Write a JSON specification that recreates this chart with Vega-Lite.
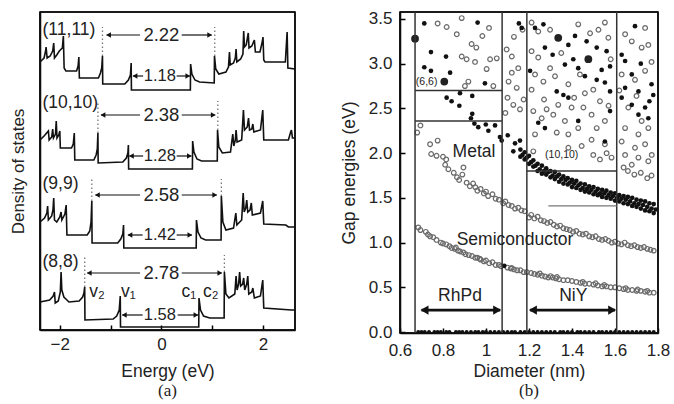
{
"$schema": "https://vega.github.io/schema/vega-lite/v6.json",
"padding": {"left": 8, "top": 9, "right": 2, "bottom": 2},
"spacing": 40,
"config": {
  "font": "Liberation Sans",
  "view": {"stroke": "black", "strokeWidth": 1.5},
  "axis": {"grid": false, "domain": true, "domainColor": "black", "domainWidth": 1.5, "labelFlush": false, "labelColor": "#222", "titleColor": "#222", "titleFontWeight": "normal", "tickColor": "black", "tickWidth": 1.5, "labelFontSize": 17, "titleFontSize": 17.5}
},
"datasets": {
"dos": [
{"c":"11","e":-2.39,"y":268},{"c":"11","e":-2.31,"y":272},{"c":"11","e":-2.28,"y":279},{"c":"11","e":-2.27,"y":283},{"c":"11","e":-2.25,"y":272},{"c":"11","e":-2.19,"y":274},{"c":"11","e":-2.14,"y":279},{"c":"11","e":-2.12,"y":287},{"c":"11","e":-2.105,"y":272},{"c":"11","e":-2.06,"y":275},{"c":"11","e":-2.01,"y":279},{"c":"11","e":-1.95,"y":282},{"c":"11","e":-1.93,"y":294},{"c":"11","e":-1.915,"y":262},{"c":"11","e":-1.88,"y":259},{"c":"11","e":-1.67,"y":259},{"c":"11","e":-1.64,"y":264},{"c":"11","e":-1.625,"y":273},{"c":"11","e":-1.615,"y":252},{"c":"11","e":-1.24,"y":252},{"c":"11","e":-1.2,"y":257},{"c":"11","e":-1.175,"y":262},{"c":"11","e":-1.16,"y":274},{"c":"11","e":-1.155,"y":246},{"c":"11","e":-0.72,"y":246},{"c":"11","e":-0.65,"y":250},{"c":"11","e":-0.61,"y":255},{"c":"11","e":-0.595,"y":267},{"c":"11","e":-0.59,"y":240},{"c":"11","e":0.57,"y":240},{"c":"11","e":0.575,"y":266},{"c":"11","e":0.6,"y":256},{"c":"11","e":0.66,"y":250},{"c":"11","e":0.75,"y":248},{"c":"11","e":1.04,"y":247},{"c":"11","e":1.045,"y":274},{"c":"11","e":1.07,"y":261},{"c":"11","e":1.13,"y":256},{"c":"11","e":1.27,"y":258},{"c":"11","e":1.32,"y":263},{"c":"11","e":1.34,"y":278},{"c":"11","e":1.355,"y":265},{"c":"11","e":1.42,"y":267},{"c":"11","e":1.455,"y":272},{"c":"11","e":1.47,"y":281},{"c":"11","e":1.485,"y":268},{"c":"11","e":1.56,"y":271},{"c":"11","e":1.605,"y":276},{"c":"11","e":1.62,"y":299},{"c":"11","e":1.635,"y":283},{"c":"11","e":1.67,"y":285},{"c":"11","e":1.71,"y":297},{"c":"11","e":1.725,"y":282},{"c":"11","e":1.78,"y":284},{"c":"11","e":1.83,"y":290},{"c":"11","e":1.85,"y":278},{"c":"11","e":1.94,"y":278},{"c":"11","e":1.985,"y":288},{"c":"11","e":2.0,"y":293},{"c":"11","e":2.015,"y":270},{"c":"11","e":2.04,"y":268},{"c":"11","e":2.44,"y":268},{"c":"11","e":2.475,"y":298},{"c":"11","e":2.49,"y":262},{"c":"11","e":2.63,"y":261},
{"c":"10","e":-2.39,"y":190},{"c":"10","e":-2.31,"y":194},{"c":"10","e":-2.225,"y":199},{"c":"10","e":-2.21,"y":190},{"c":"10","e":-2.16,"y":193},{"c":"10","e":-2.14,"y":201},{"c":"10","e":-2.125,"y":192},{"c":"10","e":-2.085,"y":196},{"c":"10","e":-2.07,"y":209},{"c":"10","e":-2.055,"y":192},{"c":"10","e":-2.02,"y":195},{"c":"10","e":-2.0,"y":199},{"c":"10","e":-1.99,"y":182},{"c":"10","e":-1.77,"y":182},{"c":"10","e":-1.735,"y":186},{"c":"10","e":-1.715,"y":197},{"c":"10","e":-1.705,"y":170},{"c":"10","e":-1.33,"y":170},{"c":"10","e":-1.285,"y":175},{"c":"10","e":-1.262,"y":181},{"c":"10","e":-1.25,"y":197},{"c":"10","e":-1.245,"y":167},{"c":"10","e":-0.76,"y":168},{"c":"10","e":-0.69,"y":172},{"c":"10","e":-0.66,"y":177},{"c":"10","e":-0.65,"y":185},{"c":"10","e":-0.645,"y":161},{"c":"10","e":0.61,"y":161},{"c":"10","e":0.615,"y":189},{"c":"10","e":0.64,"y":178},{"c":"10","e":0.7,"y":171},{"c":"10","e":0.79,"y":169},{"c":"10","e":1.1,"y":169},{"c":"10","e":1.105,"y":200},{"c":"10","e":1.13,"y":183},{"c":"10","e":1.2,"y":177},{"c":"10","e":1.36,"y":178},{"c":"10","e":1.405,"y":196},{"c":"10","e":1.425,"y":184},{"c":"10","e":1.455,"y":190},{"c":"10","e":1.47,"y":200},{"c":"10","e":1.49,"y":188},{"c":"10","e":1.58,"y":190},{"c":"10","e":1.615,"y":220},{"c":"10","e":1.635,"y":200},{"c":"10","e":1.69,"y":203},{"c":"10","e":1.715,"y":212},{"c":"10","e":1.735,"y":200},{"c":"10","e":1.78,"y":201},{"c":"10","e":1.8,"y":206},{"c":"10","e":1.82,"y":198},{"c":"10","e":1.95,"y":200},{"c":"10","e":1.995,"y":220},{"c":"10","e":2.015,"y":190},{"c":"10","e":2.5,"y":190},{"c":"10","e":2.545,"y":198},{"c":"10","e":2.56,"y":200},{"c":"10","e":2.58,"y":192},{"c":"10","e":2.63,"y":192},
{"c":"9","e":-2.39,"y":108},{"c":"9","e":-2.3,"y":112},{"c":"9","e":-2.255,"y":117},{"c":"9","e":-2.24,"y":124},{"c":"9","e":-2.225,"y":110},{"c":"9","e":-2.16,"y":114},{"c":"9","e":-2.135,"y":120},{"c":"9","e":-2.12,"y":132},{"c":"9","e":-2.105,"y":110},{"c":"9","e":-2.06,"y":108},{"c":"9","e":-2.0,"y":113},{"c":"9","e":-1.975,"y":118},{"c":"9","e":-1.96,"y":110},{"c":"9","e":-1.9,"y":116},{"c":"9","e":-1.875,"y":125},{"c":"9","e":-1.86,"y":95},{"c":"9","e":-1.46,"y":95},{"c":"9","e":-1.41,"y":99},{"c":"9","e":-1.385,"y":108},{"c":"9","e":-1.37,"y":129},{"c":"9","e":-1.365,"y":87},{"c":"9","e":-0.86,"y":87},{"c":"9","e":-0.8,"y":91},{"c":"9","e":-0.76,"y":96},{"c":"9","e":-0.745,"y":105},{"c":"9","e":-0.74,"y":82},{"c":"9","e":0.685,"y":82},{"c":"9","e":0.69,"y":110},{"c":"9","e":0.72,"y":98},{"c":"9","e":0.78,"y":92},{"c":"9","e":0.87,"y":90},{"c":"9","e":1.175,"y":90},{"c":"9","e":1.18,"y":134},{"c":"9","e":1.21,"y":108},{"c":"9","e":1.27,"y":100},{"c":"9","e":1.42,"y":102},{"c":"9","e":1.465,"y":117},{"c":"9","e":1.485,"y":105},{"c":"9","e":1.58,"y":110},{"c":"9","e":1.61,"y":137},{"c":"9","e":1.63,"y":118},{"c":"9","e":1.66,"y":122},{"c":"9","e":1.68,"y":130},{"c":"9","e":1.7,"y":118},{"c":"9","e":1.745,"y":120},{"c":"9","e":1.77,"y":127},{"c":"9","e":1.79,"y":115},{"c":"9","e":1.95,"y":117},{"c":"9","e":1.995,"y":129},{"c":"9","e":2.015,"y":106},{"c":"9","e":2.45,"y":105},{"c":"9","e":2.5,"y":103},{"c":"9","e":2.63,"y":103},
{"c":"8","e":-2.39,"y":28},{"c":"8","e":-2.2,"y":30},{"c":"8","e":-2.13,"y":34},{"c":"8","e":-2.105,"y":38},{"c":"8","e":-2.09,"y":27},{"c":"8","e":-2.03,"y":29},{"c":"8","e":-1.99,"y":38},{"c":"8","e":-1.975,"y":58},{"c":"8","e":-1.96,"y":40},{"c":"8","e":-1.92,"y":33},{"c":"8","e":-1.82,"y":28},{"c":"8","e":-1.62,"y":29},{"c":"8","e":-1.55,"y":33},{"c":"8","e":-1.525,"y":37},{"c":"8","e":-1.51,"y":43},{"c":"8","e":-1.505,"y":10},{"c":"8","e":-0.95,"y":11},{"c":"8","e":-0.88,"y":14},{"c":"8","e":-0.83,"y":20},{"c":"8","e":-0.81,"y":34},{"c":"8","e":-0.805,"y":3},{"c":"8","e":0.735,"y":3},{"c":"8","e":0.74,"y":32},{"c":"8","e":0.77,"y":20},{"c":"8","e":0.83,"y":14},{"c":"8","e":0.95,"y":12},{"c":"8","e":1.235,"y":12},{"c":"8","e":1.24,"y":58},{"c":"8","e":1.27,"y":36},{"c":"8","e":1.33,"y":32},{"c":"8","e":1.445,"y":36},{"c":"8","e":1.47,"y":54},{"c":"8","e":1.49,"y":40},{"c":"8","e":1.52,"y":46},{"c":"8","e":1.54,"y":58},{"c":"8","e":1.56,"y":44},{"c":"8","e":1.6,"y":46},{"c":"8","e":1.62,"y":52},{"c":"8","e":1.64,"y":40},{"c":"8","e":1.68,"y":46},{"c":"8","e":1.7,"y":54},{"c":"8","e":1.72,"y":36},{"c":"8","e":1.78,"y":38},{"c":"8","e":1.8,"y":42},{"c":"8","e":1.83,"y":32},{"c":"8","e":1.95,"y":34},{"c":"8","e":1.995,"y":50},{"c":"8","e":2.015,"y":22},{"c":"8","e":2.56,"y":20},{"c":"8","e":2.63,"y":20}
],
"lfx": [{"e":-2.39},{"e":2.63}],
"lfy": [{"y":0},{"y":318}],
"lvd": [{"e":-1.16,"y1":274,"y2":303},{"e":1.05,"y1":274,"y2":303},{"e":-1.25,"y1":197,"y2":229},{"e":1.11,"y1":200,"y2":229},{"e":-1.37,"y1":129,"y2":151},{"e":1.18,"y1":134,"y2":151},{"e":-1.51,"y1":43,"y2":75},{"e":1.24,"y1":58,"y2":75}],
"lar": [{"a":-1.08,"b":-0.42,"y":295},{"a":0.4,"b":0.99,"y":295},{"a":-0.56,"b":-0.36,"y":254},{"a":0.3,"b":0.56,"y":254},{"a":-1.19,"b":-0.42,"y":215},{"a":0.4,"b":1.06,"y":215},{"a":-0.63,"b":-0.36,"y":174},{"a":0.3,"b":0.59,"y":174},{"a":-1.3,"b":-0.42,"y":135},{"a":0.4,"b":1.09,"y":135},{"a":-0.66,"b":-0.37,"y":95},{"a":0.3,"b":0.6,"y":95},{"a":-1.46,"b":-0.42,"y":57},{"a":0.4,"b":1.19,"y":57},{"a":-0.77,"b":-0.37,"y":15},{"a":0.32,"b":0.72,"y":15}],
"lah": [{"x":-1.04,"y":295,"s":"triangle-left"},{"x":0.95,"y":295,"s":"triangle-right"},{"x":-0.52,"y":254,"s":"triangle-left"},{"x":0.52,"y":254,"s":"triangle-right"},{"x":-1.15,"y":215,"s":"triangle-left"},{"x":1.02,"y":215,"s":"triangle-right"},{"x":-0.59,"y":174,"s":"triangle-left"},{"x":0.55,"y":174,"s":"triangle-right"},{"x":-1.26,"y":135,"s":"triangle-left"},{"x":1.05,"y":135,"s":"triangle-right"},{"x":-0.62,"y":95,"s":"triangle-left"},{"x":0.56,"y":95,"s":"triangle-right"},{"x":-1.42,"y":57,"s":"triangle-left"},{"x":1.15,"y":57,"s":"triangle-right"},{"x":-0.73,"y":15,"s":"triangle-left"},{"x":0.68,"y":15,"s":"triangle-right"}],
"lnm": [{"x":-2.34,"y":300,"t":"(11,11)"},{"x":-2.34,"y":227,"t":"(10,10)"},{"x":-2.34,"y":146,"t":"(9,9)"},{"x":-2.34,"y":68,"t":"(8,8)"}],
"lgb": [{"x":0.0,"y":295,"t":"2.22"},{"x":0.0,"y":215,"t":"2.38"},{"x":0.0,"y":135,"t":"2.58"},{"x":0.0,"y":57,"t":"2.78"}],
"lgs": [{"x":-0.03,"y":254,"t":"1.18"},{"x":-0.03,"y":174,"t":"1.28"},{"x":-0.03,"y":95,"t":"1.42"},{"x":-0.03,"y":15,"t":"1.58"}],
"lvc": [{"x":-1.27,"y":38,"t":"v₂"},{"x":-0.65,"y":38,"t":"v₁"},{"x":0.54,"y":38,"t":"c₁"},{"x":0.97,"y":38,"t":"c₂"}],
"kp": [
{"d":0.685,"e":1.17,"t":"s"},{"d":0.695,"e":1.14,"t":"s"},{"d":0.72,"e":1.12,"t":"s"},{"d":0.73,"e":1.09,"t":"s"},{"d":0.74,"e":1.07,"t":"s"},{"d":0.755,"e":1.06,"t":"s"},{"d":0.77,"e":1.03,"t":"s"},{"d":0.79,"e":1.0,"t":"s"},{"d":0.8,"e":0.99,"t":"s"},{"d":0.815,"e":0.98,"t":"s"},{"d":0.83,"e":0.96,"t":"s"},{"d":0.84,"e":0.94,"t":"s"},{"d":0.855,"e":0.93,"t":"s"},{"d":0.86,"e":0.945,"t":"s"},{"d":0.87,"e":0.91,"t":"s"},{"d":0.88,"e":0.9,"t":"s"},{"d":0.895,"e":0.89,"t":"s"},{"d":0.905,"e":0.87,"t":"s"},{"d":0.92,"e":0.86,"t":"s"},{"d":0.935,"e":0.85,"t":"s"},{"d":0.95,"e":0.83,"t":"s"},{"d":0.96,"e":0.83,"t":"s"},{"d":0.97,"e":0.82,"t":"s"},{"d":0.975,"e":0.81,"t":"s"},{"d":0.99,"e":0.79,"t":"s"},{"d":1.0,"e":0.8,"t":"s"},{"d":1.015,"e":0.77,"t":"s"},{"d":1.03,"e":0.78,"t":"s"},{"d":1.045,"e":0.75,"t":"s"},{"d":1.06,"e":0.75,"t":"s"},{"d":1.07,"e":0.735,"t":"s"},{"d":1.1,"e":0.72,"t":"s"},{"d":1.115,"e":0.71,"t":"s"},{"d":1.12,"e":0.715,"t":"s"},{"d":1.13,"e":0.7,"t":"s"},{"d":1.145,"e":0.69,"t":"s"},{"d":1.16,"e":0.69,"t":"s"},{"d":1.175,"e":0.67,"t":"s"},{"d":1.19,"e":0.67,"t":"s"},{"d":1.21,"e":0.66,"t":"s"},{"d":1.225,"e":0.65,"t":"s"},{"d":1.24,"e":0.64,"t":"s"},{"d":1.25,"e":0.655,"t":"s"},{"d":1.26,"e":0.63,"t":"s"},{"d":1.275,"e":0.62,"t":"s"},{"d":1.29,"e":0.61,"t":"s"},{"d":1.3,"e":0.625,"t":"s"},{"d":1.31,"e":0.61,"t":"s"},{"d":1.325,"e":0.6,"t":"s"},{"d":1.33,"e":0.615,"t":"s"},{"d":1.34,"e":0.59,"t":"s"},{"d":1.36,"e":0.58,"t":"s"},{"d":1.38,"e":0.58,"t":"s"},{"d":1.4,"e":0.57,"t":"s"},{"d":1.42,"e":0.56,"t":"s"},{"d":1.44,"e":0.55,"t":"s"},{"d":1.45,"e":0.56,"t":"s"},{"d":1.46,"e":0.54,"t":"s"},{"d":1.48,"e":0.54,"t":"s"},{"d":1.5,"e":0.53,"t":"s"},{"d":1.51,"e":0.545,"t":"s"},{"d":1.52,"e":0.52,"t":"s"},{"d":1.54,"e":0.51,"t":"s"},{"d":1.55,"e":0.525,"t":"s"},{"d":1.56,"e":0.51,"t":"s"},{"d":1.58,"e":0.5,"t":"s"},{"d":1.6,"e":0.5,"t":"s"},{"d":1.62,"e":0.49,"t":"s"},{"d":1.64,"e":0.48,"t":"s"},{"d":1.65,"e":0.49,"t":"s"},{"d":1.66,"e":0.47,"t":"s"},{"d":1.68,"e":0.47,"t":"s"},{"d":1.7,"e":0.46,"t":"s"},{"d":1.705,"e":0.475,"t":"s"},{"d":1.72,"e":0.46,"t":"s"},{"d":1.74,"e":0.45,"t":"s"},{"d":1.75,"e":0.46,"t":"s"},{"d":1.76,"e":0.44,"t":"s"},{"d":1.78,"e":0.44,"t":"s"},
{"d":1.085,"e":0.74,"t":"m"},
{"d":0.68,"e":2.23,"t":"s"},{"d":0.695,"e":2.31,"t":"s"},{"d":0.74,"e":2.1,"t":"s"},{"d":0.745,"e":1.99,"t":"s"},{"d":0.775,"e":2.14,"t":"s"},{"d":0.77,"e":1.97,"t":"s"},{"d":0.8,"e":1.96,"t":"s"},{"d":0.815,"e":1.93,"t":"s"},{"d":0.81,"e":1.87,"t":"s"},{"d":0.825,"e":1.82,"t":"s"},{"d":0.85,"e":1.78,"t":"s"},{"d":0.865,"e":1.73,"t":"s"},{"d":0.875,"e":1.7,"t":"s"},{"d":0.89,"e":1.76,"t":"s"},{"d":0.895,"e":1.84,"t":"s"},{"d":0.91,"e":1.67,"t":"s"},{"d":0.925,"e":1.63,"t":"s"},{"d":0.94,"e":1.66,"t":"s"},{"d":0.95,"e":1.62,"t":"s"},{"d":0.96,"e":1.58,"t":"s"},{"d":0.975,"e":1.6,"t":"s"},{"d":0.99,"e":1.55,"t":"s"},{"d":1.0,"e":1.57,"t":"s"},{"d":1.01,"e":1.52,"t":"s"},{"d":1.03,"e":1.54,"t":"s"},{"d":1.045,"e":1.49,"t":"s"},{"d":1.06,"e":1.48,"t":"s"},{"d":1.08,"e":1.44,"t":"s"},{"d":1.09,"e":1.46,"t":"s"},{"d":1.105,"e":1.42,"t":"s"},{"d":1.12,"e":1.41,"t":"s"},{"d":1.135,"e":1.38,"t":"s"},{"d":1.15,"e":1.39,"t":"s"},{"d":1.165,"e":1.36,"t":"s"},{"d":1.18,"e":1.35,"t":"s"},{"d":1.2,"e":1.28,"t":"s"},{"d":1.21,"e":1.31,"t":"s"},{"d":1.225,"e":1.27,"t":"s"},{"d":1.24,"e":1.29,"t":"s"},{"d":1.255,"e":1.25,"t":"s"},{"d":1.27,"e":1.24,"t":"s"},{"d":1.285,"e":1.22,"t":"s"},{"d":1.3,"e":1.23,"t":"s"},{"d":1.315,"e":1.2,"t":"s"},{"d":1.33,"e":1.18,"t":"s"},{"d":1.345,"e":1.19,"t":"s"},{"d":1.36,"e":1.16,"t":"s"},{"d":1.375,"e":1.15,"t":"s"},{"d":1.39,"e":1.14,"t":"s"},{"d":1.405,"e":1.12,"t":"s"},{"d":1.42,"e":1.13,"t":"s"},{"d":1.435,"e":1.1,"t":"s"},{"d":1.45,"e":1.09,"t":"s"},{"d":1.465,"e":1.1,"t":"s"},{"d":1.48,"e":1.07,"t":"s"},{"d":1.495,"e":1.06,"t":"s"},{"d":1.51,"e":1.07,"t":"s"},{"d":1.525,"e":1.04,"t":"s"},{"d":1.54,"e":1.03,"t":"s"},{"d":1.555,"e":1.04,"t":"s"},{"d":1.57,"e":1.02,"t":"s"},{"d":1.585,"e":1.0,"t":"s"},{"d":1.6,"e":1.01,"t":"s"},{"d":1.615,"e":0.99,"t":"s"},{"d":1.63,"e":0.98,"t":"s"},{"d":1.645,"e":1.0,"t":"s"},{"d":1.66,"e":0.97,"t":"s"},{"d":1.675,"e":0.96,"t":"s"},{"d":1.69,"e":0.97,"t":"s"},{"d":1.705,"e":0.95,"t":"s"},{"d":1.72,"e":0.94,"t":"s"},{"d":1.735,"e":0.95,"t":"s"},{"d":1.75,"e":0.93,"t":"s"},{"d":1.765,"e":0.92,"t":"s"},{"d":1.78,"e":0.91,"t":"s"},
{"d":0.817,"e":2.62,"t":"m"},{"d":0.879,"e":2.67,"t":"m"},{"d":0.936,"e":2.64,"t":"m"},{"d":0.84,"e":2.58,"t":"m"},{"d":0.876,"e":2.53,"t":"m"},{"d":0.936,"e":2.44,"t":"m"},{"d":0.93,"e":2.39,"t":"m"},{"d":0.946,"e":2.33,"t":"m"},{"d":0.964,"e":2.29,"t":"m"},{"d":0.999,"e":2.32,"t":"m"},{"d":1.042,"e":2.31,"t":"m"},{"d":1.011,"e":2.25,"t":"m"},{"d":1.065,"e":2.18,"t":"m"},{"d":1.073,"e":2.14,"t":"m"},{"d":1.101,"e":2.2,"t":"m"},{"d":1.127,"e":2.02,"t":"m"},{"d":1.135,"e":2.11,"t":"m"},{"d":1.158,"e":2.14,"t":"m"},{"d":1.16,"e":2.04,"t":"m"},{"d":1.16,"e":1.96,"t":"m"},{"d":1.17,"e":1.98,"t":"m"},{"d":1.18,"e":2.01,"t":"m"},{"d":1.18,"e":1.93,"t":"m"},{"d":1.2,"e":1.97,"t":"m"},{"d":1.2,"e":1.88,"t":"m"},{"d":1.22,"e":1.92,"t":"m"},{"d":1.22,"e":1.85,"t":"m"},{"d":1.24,"e":1.88,"t":"m"},{"d":1.24,"e":1.8,"t":"m"},{"d":1.25,"e":1.82,"t":"m"},{"d":1.26,"e":1.86,"t":"m"},{"d":1.26,"e":1.77,"t":"m"},{"d":1.28,"e":1.83,"t":"m"},{"d":1.28,"e":1.76,"t":"m"},{"d":1.3,"e":1.8,"t":"m"},{"d":1.3,"e":1.73,"t":"m"},{"d":1.32,"e":1.79,"t":"m"},{"d":1.32,"e":1.71,"t":"m"},{"d":1.33,"e":1.74,"t":"m"},{"d":1.34,"e":1.76,"t":"m"},{"d":1.34,"e":1.68,"t":"m"},{"d":1.36,"e":1.74,"t":"m"},{"d":1.36,"e":1.66,"t":"m"},{"d":1.38,"e":1.72,"t":"m"},{"d":1.38,"e":1.65,"t":"m"},{"d":1.4,"e":1.7,"t":"m"},{"d":1.4,"e":1.62,"t":"m"},{"d":1.41,"e":1.66,"t":"m"},{"d":1.42,"e":1.69,"t":"m"},{"d":1.42,"e":1.61,"t":"m"},{"d":1.44,"e":1.66,"t":"m"},{"d":1.44,"e":1.59,"t":"m"},{"d":1.46,"e":1.65,"t":"m"},{"d":1.46,"e":1.57,"t":"m"},{"d":1.48,"e":1.63,"t":"m"},{"d":1.48,"e":1.56,"t":"m"},{"d":1.49,"e":1.59,"t":"m"},{"d":1.5,"e":1.62,"t":"m"},{"d":1.5,"e":1.54,"t":"m"},{"d":1.52,"e":1.6,"t":"m"},{"d":1.52,"e":1.53,"t":"m"},{"d":1.54,"e":1.59,"t":"m"},{"d":1.54,"e":1.51,"t":"m"},{"d":1.56,"e":1.58,"t":"m"},{"d":1.56,"e":1.5,"t":"m"},{"d":1.57,"e":1.53,"t":"m"},{"d":1.58,"e":1.56,"t":"m"},{"d":1.58,"e":1.49,"t":"m"},{"d":1.6,"e":1.55,"t":"m"},{"d":1.6,"e":1.47,"t":"m"},{"d":1.62,"e":1.53,"t":"m"},{"d":1.62,"e":1.46,"t":"m"},{"d":1.64,"e":1.52,"t":"m"},{"d":1.64,"e":1.44,"t":"m"},{"d":1.65,"e":1.48,"t":"m"},{"d":1.66,"e":1.51,"t":"m"},{"d":1.66,"e":1.43,"t":"m"},{"d":1.68,"e":1.5,"t":"m"},{"d":1.68,"e":1.41,"t":"m"},{"d":1.7,"e":1.48,"t":"m"},{"d":1.7,"e":1.4,"t":"m"},{"d":1.72,"e":1.47,"t":"m"},{"d":1.72,"e":1.38,"t":"m"},{"d":1.73,"e":1.42,"t":"m"},{"d":1.74,"e":1.46,"t":"m"},{"d":1.74,"e":1.36,"t":"m"},{"d":1.76,"e":1.44,"t":"m"},{"d":1.76,"e":1.35,"t":"m"},{"d":1.78,"e":1.43,"t":"m"},{"d":1.78,"e":1.33,"t":"m"},
{"d":1.19,"e":1.95,"t":"m"},{"d":1.21,"e":1.9,"t":"m"},{"d":1.23,"e":1.86,"t":"m"},{"d":1.27,"e":1.8,"t":"m"},{"d":1.29,"e":1.79,"t":"m"},{"d":1.31,"e":1.75,"t":"m"},{"d":1.35,"e":1.71,"t":"m"},{"d":1.37,"e":1.7,"t":"m"},{"d":1.39,"e":1.67,"t":"m"},{"d":1.43,"e":1.64,"t":"m"},{"d":1.45,"e":1.61,"t":"m"},{"d":1.47,"e":1.6,"t":"m"},{"d":1.51,"e":1.57,"t":"m"},{"d":1.53,"e":1.55,"t":"m"},{"d":1.55,"e":1.55,"t":"m"},{"d":1.59,"e":1.52,"t":"m"},{"d":1.61,"e":1.5,"t":"m"},{"d":1.63,"e":1.49,"t":"m"},{"d":1.67,"e":1.46,"t":"m"},{"d":1.69,"e":1.44,"t":"m"},{"d":1.71,"e":1.43,"t":"m"},{"d":1.75,"e":1.4,"t":"m"},{"d":1.77,"e":1.38,"t":"m"},{"d":1.79,"e":1.37,"t":"m"},
{"d":0.713,"e":3.45,"t":"m"},{"d":0.744,"e":3.13,"t":"m"},{"d":0.814,"e":3.08,"t":"m"},{"d":0.713,"e":2.96,"t":"m"},{"d":0.744,"e":2.92,"t":"m"},{"d":0.833,"e":2.9,"t":"m"},{"d":0.995,"e":2.78,"t":"m"},{"d":0.961,"e":3.46,"t":"m"},{"d":1.153,"e":3.45,"t":"m"},{"d":1.166,"e":3.4,"t":"m"},
{"d":0.775,"e":3.45,"t":"s"},{"d":0.817,"e":3.41,"t":"s"},{"d":0.887,"e":3.51,"t":"s"},{"d":0.864,"e":3.33,"t":"s"},{"d":0.933,"e":3.22,"t":"s"},{"d":0.983,"e":3.31,"t":"s"},{"d":1.014,"e":3.4,"t":"s"},{"d":0.887,"e":3.08,"t":"s"},{"d":0.91,"e":3.05,"t":"s"},{"d":0.949,"e":3.02,"t":"s"},{"d":1.003,"e":2.94,"t":"s"},{"d":1.019,"e":3.05,"t":"s"},{"d":0.902,"e":2.75,"t":"s"},{"d":1.034,"e":2.75,"t":"s"},{"d":1.05,"e":3.06,"t":"s"},{"d":0.918,"e":2.8,"t":"s"},{"d":0.955,"e":3.18,"t":"s"},
{"d":1.096,"e":3.16,"t":"s"},{"d":1.12,"e":3.08,"t":"s"},{"d":1.12,"e":2.9,"t":"s"},{"d":1.143,"e":2.73,"t":"s"},{"d":1.127,"e":2.54,"t":"s"},{"d":1.158,"e":2.49,"t":"s"},{"d":1.1,"e":2.62,"t":"s"},{"d":1.13,"e":3.3,"t":"s"},{"d":1.17,"e":3.38,"t":"s"},{"d":1.105,"e":2.8,"t":"s"},{"d":1.15,"e":2.95,"t":"s"},{"d":1.175,"e":2.6,"t":"s"},{"d":1.09,"e":2.45,"t":"s"},
{"d":1.212,"e":3.46,"t":"s"},{"d":1.243,"e":3.36,"t":"s"},{"d":1.298,"e":3.38,"t":"s"},{"d":1.429,"e":3.44,"t":"s"},{"d":1.484,"e":3.34,"t":"s"},{"d":1.523,"e":3.38,"t":"s"},{"d":1.553,"e":3.46,"t":"s"},{"d":1.569,"e":3.29,"t":"s"},{"d":1.212,"e":3.14,"t":"s"},{"d":1.243,"e":3.07,"t":"s"},{"d":1.298,"e":2.95,"t":"s"},{"d":1.228,"e":2.88,"t":"s"},{"d":1.321,"e":2.86,"t":"s"},{"d":1.267,"e":2.8,"t":"s"},{"d":1.212,"e":2.71,"t":"s"},{"d":1.383,"e":2.77,"t":"s"},{"d":1.437,"e":2.88,"t":"s"},{"d":1.46,"e":2.67,"t":"s"},{"d":1.499,"e":2.71,"t":"s"},{"d":1.53,"e":2.58,"t":"s"},{"d":1.453,"e":2.51,"t":"s"},{"d":1.398,"e":2.51,"t":"s"},{"d":1.336,"e":2.54,"t":"s"},{"d":1.282,"e":2.49,"t":"s"},{"d":1.22,"e":2.47,"t":"s"},{"d":1.259,"e":2.39,"t":"s"},{"d":1.313,"e":2.43,"t":"s"},{"d":1.367,"e":2.36,"t":"s"},{"d":1.491,"e":2.43,"t":"s"},{"d":1.553,"e":2.36,"t":"s"},{"d":1.515,"e":2.28,"t":"s"},{"d":1.429,"e":2.28,"t":"s"},{"d":1.383,"e":2.21,"t":"s"},{"d":1.329,"e":2.23,"t":"s"},{"d":1.491,"e":2.15,"t":"s"},{"d":1.553,"e":2.1,"t":"s"},{"d":1.445,"e":2.08,"t":"s"},{"d":1.383,"e":2.06,"t":"s"},{"d":1.499,"e":1.98,"t":"s"},{"d":1.53,"e":1.93,"t":"s"},{"d":1.561,"e":2.0,"t":"s"},{"d":1.584,"e":1.95,"t":"s"},{"d":1.228,"e":2.21,"t":"s"},{"d":1.22,"e":2.02,"t":"s"},{"d":1.647,"e":3.33,"t":"s"},{"d":1.678,"e":3.25,"t":"s"},{"d":1.724,"e":3.18,"t":"s"},{"d":1.755,"e":3.21,"t":"s"},{"d":1.631,"e":2.88,"t":"s"},{"d":1.693,"e":2.82,"t":"s"},{"d":1.74,"e":2.92,"t":"s"},{"d":1.662,"e":2.51,"t":"s"},{"d":1.724,"e":2.36,"t":"s"},{"d":1.647,"e":2.28,"t":"s"},{"d":1.709,"e":2.21,"t":"s"},{"d":1.755,"e":2.28,"t":"s"},{"d":1.631,"e":2.13,"t":"s"},{"d":1.693,"e":2.06,"t":"s"},{"d":1.74,"e":2.1,"t":"s"},{"d":1.647,"e":1.98,"t":"s"},{"d":1.709,"e":1.95,"t":"s"},{"d":1.755,"e":1.91,"t":"s"},{"d":1.771,"e":1.98,"t":"s"},{"d":1.678,"e":1.87,"t":"s"},{"d":1.66,"e":1.8,"t":"s"},{"d":1.69,"e":1.76,"t":"s"},{"d":1.72,"e":1.78,"t":"s"},{"d":1.75,"e":1.72,"t":"s"},{"d":1.77,"e":1.75,"t":"s"},{"d":1.64,"e":1.84,"t":"s"},{"d":1.35,"e":3.12,"t":"s"},{"d":1.58,"e":3.05,"t":"s"},{"d":1.41,"e":2.62,"t":"s"},{"d":1.27,"e":2.6,"t":"s"},{"d":1.57,"e":2.53,"t":"s"},{"d":1.74,"e":3.4,"t":"s"},{"d":1.77,"e":3.02,"t":"s"},{"d":1.7,"e":2.64,"t":"s"},{"d":1.62,"e":2.7,"t":"s"},
{"d":1.228,"e":3.4,"t":"m"},{"d":1.267,"e":3.44,"t":"m"},{"d":1.274,"e":3.18,"t":"m"},{"d":1.383,"e":3.21,"t":"m"},{"d":1.414,"e":3.31,"t":"m"},{"d":1.468,"e":3.25,"t":"m"},{"d":1.515,"e":3.18,"t":"m"},{"d":1.561,"e":3.14,"t":"m"},{"d":1.538,"e":2.93,"t":"m"},{"d":1.577,"e":2.97,"t":"m"},{"d":1.367,"e":2.99,"t":"m"},{"d":1.406,"e":3.05,"t":"m"},{"d":1.429,"e":2.95,"t":"m"},{"d":1.329,"e":2.69,"t":"m"},{"d":1.36,"e":2.65,"t":"m"},{"d":1.383,"e":2.62,"t":"m"},{"d":1.515,"e":2.82,"t":"m"},{"d":1.553,"e":2.79,"t":"m"},{"d":1.577,"e":2.69,"t":"m"},{"d":1.243,"e":2.34,"t":"m"},{"d":1.274,"e":2.28,"t":"m"},{"d":1.429,"e":2.36,"t":"m"},{"d":1.553,"e":2.13,"t":"m"},{"d":1.205,"e":2.92,"t":"m"},{"d":1.577,"e":2.47,"t":"m"},{"d":1.631,"e":3.1,"t":"m"},{"d":1.647,"e":3.03,"t":"m"},{"d":1.678,"e":2.88,"t":"m"},{"d":1.647,"e":2.73,"t":"m"},{"d":1.709,"e":2.69,"t":"m"},{"d":1.631,"e":2.62,"t":"m"},{"d":1.678,"e":2.54,"t":"m"},{"d":1.74,"e":2.51,"t":"m"},{"d":1.778,"e":2.65,"t":"m"},{"d":1.709,"e":2.43,"t":"m"},{"d":1.755,"e":2.39,"t":"m"},{"d":1.77,"e":2.77,"t":"m"},{"d":1.693,"e":3.42,"t":"m"},{"d":1.72,"e":3.0,"t":"m"},{"d":1.76,"e":2.58,"t":"m"},{"d":1.31,"e":3.1,"t":"m"},{"d":1.46,"e":2.86,"t":"m"},
{"d":0.685,"e":0,"t":"z"},{"d":0.7,"e":0,"t":"z"},{"d":0.715,"e":0,"t":"z"},{"d":0.735,"e":0,"t":"z"},{"d":0.76,"e":0,"t":"z"},{"d":0.775,"e":0,"t":"z"},{"d":0.79,"e":0,"t":"z"},{"d":0.815,"e":0,"t":"z"},{"d":0.83,"e":0,"t":"z"},{"d":0.86,"e":0,"t":"z"},{"d":0.875,"e":0,"t":"z"},{"d":0.89,"e":0,"t":"z"},{"d":0.91,"e":0,"t":"z"},{"d":0.93,"e":0,"t":"z"},{"d":0.95,"e":0,"t":"z"},{"d":0.965,"e":0,"t":"z"},{"d":0.985,"e":0,"t":"z"},{"d":1.0,"e":0,"t":"z"},{"d":1.02,"e":0,"t":"z"},{"d":1.04,"e":0,"t":"z"},{"d":1.06,"e":0,"t":"z"},{"d":1.08,"e":0,"t":"z"},{"d":1.1,"e":0,"t":"z"},{"d":1.12,"e":0,"t":"z"},{"d":1.135,"e":0,"t":"z"},{"d":1.16,"e":0,"t":"z"},{"d":1.18,"e":0,"t":"z"},{"d":1.2,"e":0,"t":"z"},{"d":1.22,"e":0,"t":"z"},{"d":1.24,"e":0,"t":"z"},{"d":1.26,"e":0,"t":"z"},{"d":1.28,"e":0,"t":"z"},{"d":1.3,"e":0,"t":"z"},{"d":1.32,"e":0,"t":"z"},{"d":1.345,"e":0,"t":"z"},{"d":1.36,"e":0,"t":"z"},{"d":1.38,"e":0,"t":"z"},{"d":1.4,"e":0,"t":"z"},{"d":1.425,"e":0,"t":"z"},{"d":1.44,"e":0,"t":"z"},{"d":1.46,"e":0,"t":"z"},{"d":1.48,"e":0,"t":"z"},{"d":1.5,"e":0,"t":"z"},{"d":1.525,"e":0,"t":"z"},{"d":1.54,"e":0,"t":"z"},{"d":1.56,"e":0,"t":"z"},{"d":1.58,"e":0,"t":"z"},{"d":1.6,"e":0,"t":"z"},{"d":1.62,"e":0,"t":"z"},{"d":1.64,"e":0,"t":"z"},{"d":1.66,"e":0,"t":"z"},{"d":1.68,"e":0,"t":"z"},{"d":1.7,"e":0,"t":"z"},{"d":1.72,"e":0,"t":"z"},{"d":1.74,"e":0,"t":"z"},{"d":1.76,"e":0,"t":"z"},{"d":1.78,"e":0,"t":"z"},
{"d":0.67,"e":3.28,"t":"b"},{"d":0.806,"e":2.8,"t":"b"},{"d":1.336,"e":3.29,"t":"b"},{"d":1.476,"e":3.05,"t":"b"}
],
"rfx": [{"d":0.6},{"d":1.8}],
"rfy": [{"e":-0.011},{"e":3.578}],
"rvl": [{"d":0.67},{"d":1.075},{"d":1.19},{"d":1.608}],
"rhl": [{"a":0.67,"b":1.075,"e":2.7},{"a":0.67,"b":1.075,"e":2.36},{"a":1.19,"b":1.608,"e":1.8}],
"rhl2": [{"a":1.29,"b":1.608,"e":1.41}],
"rar": [{"a":0.7,"b":1.066,"e":0.245},{"a":1.205,"b":1.6,"e":0.245}],
"rah": [{"x":0.714,"e":0.245,"s":"triangle-left"},{"x":1.052,"e":0.245,"s":"triangle-right"},{"x":1.218,"e":0.245,"s":"triangle-left"},{"x":1.587,"e":0.245,"s":"triangle-right"}],
"rtx": [{"x":0.944,"y":2.01,"t":"Metal"},{"x":1.135,"y":1.03,"t":"Semiconductor"},{"x":0.879,"y":0.4,"t":"RhPd"},{"x":1.406,"y":0.4,"t":"NiY"}],
"rts": [{"x":0.724,"y":2.8,"t":"(6,6)"},{"x":1.352,"y":1.98,"t":"(10,10)"}]
},
"hconcat": [
{
 "width": 255, "height": 318,
 "title": {"text": "(a)", "orient": "bottom", "font": "Liberation Serif", "fontSize": 17, "fontWeight": "normal", "color": "#222", "offset": 3},
 "layer": [
  {"data": {"name": "dos"}, "mark": {"type": "line", "color": "#111", "strokeWidth": 1.6},
   "encoding": {
    "x": {"field": "e", "type": "quantitative", "scale": {"domain": [-2.39, 2.63], "nice": false, "zero": false},
          "axis": {"orient": "bottom", "values": [-2, -1, 0, 1, 2], "labelExpr": "datum.value % 2 == 0 ? datum.label : ''", "tickSize": -5, "labelPadding": 11, "title": "Energy (eV)", "titlePadding": 10}},
    "y": {"field": "y", "type": "quantitative", "scale": {"domain": [0, 318], "nice": false, "zero": false},
          "axis": {"title": "Density of states", "labels": false, "ticks": false, "titleFontSize": 17, "titlePadding": 13}},
    "detail": {"field": "c"}}},
  {"data": {"name": "lfx"}, "mark": {"type": "rule", "color": "#111", "strokeWidth": 1.6},
   "encoding": {"x": {"field": "e", "type": "quantitative"}}},
  {"data": {"name": "lfy"}, "mark": {"type": "rule", "color": "#111", "strokeWidth": 1.6},
   "encoding": {"y": {"field": "y", "type": "quantitative"}}},
  {"data": {"name": "lvd"}, "mark": {"type": "rule", "color": "#777", "strokeWidth": 1.3, "strokeDash": [1.5, 2.5]},
   "encoding": {
    "x": {"field": "e", "type": "quantitative"},
    "y": {"field": "y1", "type": "quantitative"},
    "y2": {"field": "y2"}}},
  {"data": {"name": "lar"}, "mark": {"type": "rule", "color": "#111", "strokeWidth": 1.2},
   "encoding": {
    "x": {"field": "a", "type": "quantitative"},
    "x2": {"field": "b"},
    "y": {"field": "y", "type": "quantitative"}}},
  {"data": {"name": "lah"}, "mark": {"type": "point", "filled": true, "size": 30, "color": "#111", "opacity": 1},
   "encoding": {
    "x": {"field": "x", "type": "quantitative"},
    "y": {"field": "y", "type": "quantitative"},
    "shape": {"field": "s", "type": "nominal", "scale": null}}},
  {"data": {"name": "lnm"}, "mark": {"type": "text", "align": "left", "baseline": "middle", "fontSize": 17.5, "color": "#222"},
   "encoding": {
    "x": {"field": "x", "type": "quantitative"},
    "y": {"field": "y", "type": "quantitative"},
    "text": {"field": "t"}}},
  {"data": {"name": "lgb"}, "mark": {"type": "text", "align": "center", "baseline": "middle", "fontSize": 18.5, "color": "#222"},
   "encoding": {
    "x": {"field": "x", "type": "quantitative"},
    "y": {"field": "y", "type": "quantitative"},
    "text": {"field": "t"}}},
  {"data": {"name": "lgs"}, "mark": {"type": "text", "align": "center", "baseline": "middle", "fontSize": 16.5, "color": "#222"},
   "encoding": {
    "x": {"field": "x", "type": "quantitative"},
    "y": {"field": "y", "type": "quantitative"},
    "text": {"field": "t"}}},
  {"data": {"name": "lvc"}, "mark": {"type": "text", "align": "center", "baseline": "middle", "fontSize": 17.5, "color": "#222"},
   "encoding": {
    "x": {"field": "x", "type": "quantitative"},
    "y": {"field": "y", "type": "quantitative"},
    "text": {"field": "t"}}}
 ]
},
{
 "width": 258, "height": 321,
 "title": {"text": "(b)", "orient": "bottom", "font": "Liberation Serif", "fontSize": 17, "fontWeight": "normal", "color": "#222", "offset": 3},
 "layer": [
  {"data": {"name": "kp"}, "transform": [{"filter": "datum.t == 's'"}],
   "mark": {"type": "point", "shape": "circle", "filled": false, "stroke": "#6a6a6a", "strokeWidth": 1.2, "size": 22, "opacity": 1},
   "encoding": {
    "x": {"field": "d", "type": "quantitative", "scale": {"domain": [0.6, 1.8], "nice": false, "zero": false},
          "axis": {"orient": "bottom", "values": [0.6, 0.8, 1, 1.2, 1.4, 1.6, 1.8], "format": "~g", "tickSize": -5, "labelPadding": 14, "title": "Diameter (nm)", "titlePadding": 4}},
    "y": {"field": "e", "type": "quantitative", "scale": {"domain": [-0.011, 3.578], "nice": false, "zero": false},
          "axis": {"orient": "left", "values": [0, 0.5, 1, 1.5, 2, 2.5, 3, 3.5], "format": ".1f", "tickSize": -5, "labelPadding": 13, "title": "Gap energies (eV)", "titlePadding": 10}}}},
  {"data": {"name": "kp"}, "transform": [{"filter": "datum.t == 'm'"}],
   "mark": {"type": "circle", "color": "#111", "size": 22, "opacity": 1},
   "encoding": {
    "x": {"field": "d", "type": "quantitative"},
    "y": {"field": "e", "type": "quantitative"}}},
  {"data": {"name": "kp"}, "transform": [{"filter": "datum.t == 'z'"}],
   "mark": {"type": "circle", "color": "#111", "size": 16, "opacity": 1},
   "encoding": {
    "x": {"field": "d", "type": "quantitative"},
    "y": {"field": "e", "type": "quantitative"}}},
  {"data": {"name": "kp"}, "transform": [{"filter": "datum.t == 'b'"}],
   "mark": {"type": "circle", "color": "#222", "size": 60, "opacity": 1},
   "encoding": {
    "x": {"field": "d", "type": "quantitative"},
    "y": {"field": "e", "type": "quantitative"}}},
  {"data": {"name": "rfx"}, "mark": {"type": "rule", "color": "#111", "strokeWidth": 1.6},
   "encoding": {"x": {"field": "d", "type": "quantitative"}}},
  {"data": {"name": "rfy"}, "mark": {"type": "rule", "color": "#111", "strokeWidth": 1.6},
   "encoding": {"y": {"field": "e", "type": "quantitative"}}},
  {"data": {"name": "rvl"}, "mark": {"type": "rule", "color": "#333", "strokeWidth": 1.5},
   "encoding": {
    "x": {"field": "d", "type": "quantitative"}}},
  {"data": {"name": "rhl"}, "mark": {"type": "rule", "color": "#333", "strokeWidth": 1.6},
   "encoding": {
    "x": {"field": "a", "type": "quantitative"},
    "x2": {"field": "b"},
    "y": {"field": "e", "type": "quantitative"}}},
  {"data": {"name": "rhl2"}, "mark": {"type": "rule", "color": "#777", "strokeWidth": 1.2},
   "encoding": {
    "x": {"field": "a", "type": "quantitative"},
    "x2": {"field": "b"},
    "y": {"field": "e", "type": "quantitative"}}},
  {"data": {"name": "rar"}, "mark": {"type": "rule", "color": "#111", "strokeWidth": 2.6},
   "encoding": {
    "x": {"field": "a", "type": "quantitative"},
    "x2": {"field": "b"},
    "y": {"field": "e", "type": "quantitative"}}},
  {"data": {"name": "rah"}, "mark": {"type": "point", "filled": true, "size": 85, "color": "#111", "opacity": 1},
   "encoding": {
    "x": {"field": "x", "type": "quantitative"},
    "y": {"field": "e", "type": "quantitative"},
    "shape": {"field": "s", "type": "nominal", "scale": null}}},
  {"data": {"name": "rtx"}, "mark": {"type": "text", "align": "center", "baseline": "middle", "fontSize": 17.5, "color": "#222"},
   "encoding": {
    "x": {"field": "x", "type": "quantitative"},
    "y": {"field": "y", "type": "quantitative"},
    "text": {"field": "t"}}},
  {"data": {"name": "rts"}, "mark": {"type": "text", "align": "center", "baseline": "middle", "fontSize": 10.5, "color": "#222"},
   "encoding": {
    "x": {"field": "x", "type": "quantitative"},
    "y": {"field": "y", "type": "quantitative"},
    "text": {"field": "t"}}}
 ]
}
]
}
